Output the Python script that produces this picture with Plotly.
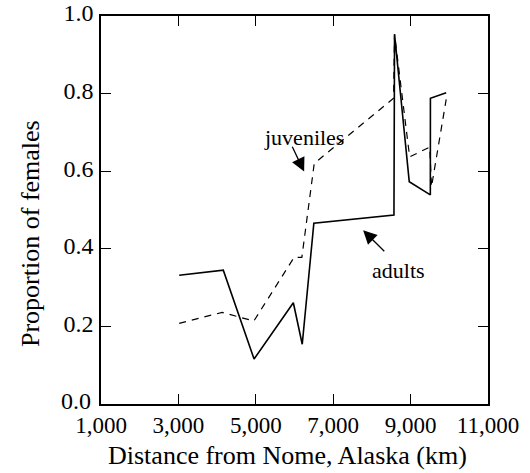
import plotly.graph_objects as go

# Data
adult_x = [3020, 4160, 4955, 5970, 6200, 6500, 8570, 8585, 8965, 9510, 9512, 9920]
adult_y = [0.332, 0.345, 0.116, 0.261, 0.154, 0.466, 0.487, 0.953, 0.573, 0.539, 0.788, 0.802]

juv_x = [3020, 4130, 4950, 5990, 6190, 6510, 8560, 8585, 8975, 9495, 9540, 9920]
juv_y = [0.208, 0.236, 0.214, 0.378, 0.378, 0.620, 0.788, 0.953, 0.637, 0.662, 0.560, 0.785]

x_tickvals = [1000, 3000, 5000, 7000, 9000, 11000]
x_ticktext = ["1,000", "3,000", "5,000", "7,000", "9,000", "11,000"]
y_tickvals = [0.0, 0.2, 0.4, 0.6, 0.8, 1.0]
y_ticktext = ["0.0", "0.2", "0.4", "0.6", "0.8", "1.0"]

x_title = "Distance from Nome, Alaska (km)"
y_title = "Proportion of females"

FONT = "Liberation Serif"

fig = go.Figure()
fig.add_trace(go.Scatter(x=adult_x, y=adult_y, mode="lines",
                         line=dict(color="black", width=1.6), name="adults"))
fig.add_trace(go.Scatter(x=juv_x, y=juv_y, mode="lines",
                         line=dict(color="black", width=1.2, dash="7px,6px"), name="juveniles"))

fig.update_layout(
    width=530, height=473,
    margin=dict(l=101, r=42, t=16, b=69),
    paper_bgcolor="white", plot_bgcolor="white",
    showlegend=False,
    font=dict(family=FONT, color="black"),
)

fig.update_xaxes(
    range=[1000, 11000], tickvals=x_tickvals, ticktext=x_ticktext,
    ticks="inside", ticklen=10, tickwidth=1.3, tickcolor="black",
    showline=True, linecolor="black", linewidth=1.5, mirror="ticks",
    showgrid=False, zeroline=False, automargin=False, ticklabelstandoff=0,
    tickfont=dict(family=FONT, size=23, color="black"),
)
# the lowest y label is drawn separately (slightly raised) to clear the x labels
y_axis_text = [""] + y_ticktext[1:]
fig.update_yaxes(
    range=[0, 1.0], tickvals=y_tickvals, ticktext=y_axis_text,
    ticks="inside", ticklen=10, tickwidth=1.3, tickcolor="black",
    showline=True, linecolor="black", linewidth=1.5, mirror="ticks",
    showgrid=False, zeroline=False, automargin=False, ticklabelstandoff=1,
    ticklabelshift=-3,
    tickfont=dict(family=FONT, size=24, color="black"),
)
fig.add_annotation(xref="paper", x=0, y=y_tickvals[0], text=y_ticktext[0],
                   showarrow=False, xanchor="right", yanchor="middle",
                   xshift=-8, yshift=3,
                   font=dict(family=FONT, size=24, color="black"))

# Axis titles
fig.add_annotation(xref="paper", yref="paper", x=0.482, y=-0.134, text=x_title,
                   showarrow=False, xanchor="center", yanchor="middle",
                   font=dict(family=FONT, size=26, color="black"))
fig.add_annotation(xref="paper", yref="paper", x=-0.1835, y=0.4407, text=y_title,
                   showarrow=False, xanchor="center", yanchor="middle", textangle=-90,
                   font=dict(family=FONT, size=26, color="black"))

# Labels and arrows
fig.add_annotation(x=6241, y=0.688, text="juveniles", showarrow=False,
                   font=dict(family=FONT, size=22, color="black"))
fig.add_annotation(x=6249, y=0.599, ax=5924, ay=0.667, axref="x", ayref="y",
                   text="", showarrow=True, arrowhead=2, arrowsize=2.1,
                   arrowwidth=1.3, arrowcolor="black", standoff=0)
fig.add_annotation(x=8694, y=0.345, text="adults", showarrow=False,
                   font=dict(family=FONT, size=22, color="black"))
fig.add_annotation(x=7773, y=0.448, ax=8359, ay=0.390, axref="x", ayref="y",
                   text="", showarrow=True, arrowhead=2, arrowsize=2.1,
                   arrowwidth=1.3, arrowcolor="black", standoff=0)

fig.write_html("out.html", config={"displayModeBar": False},
               post_script="document.body.style.margin='0';")
